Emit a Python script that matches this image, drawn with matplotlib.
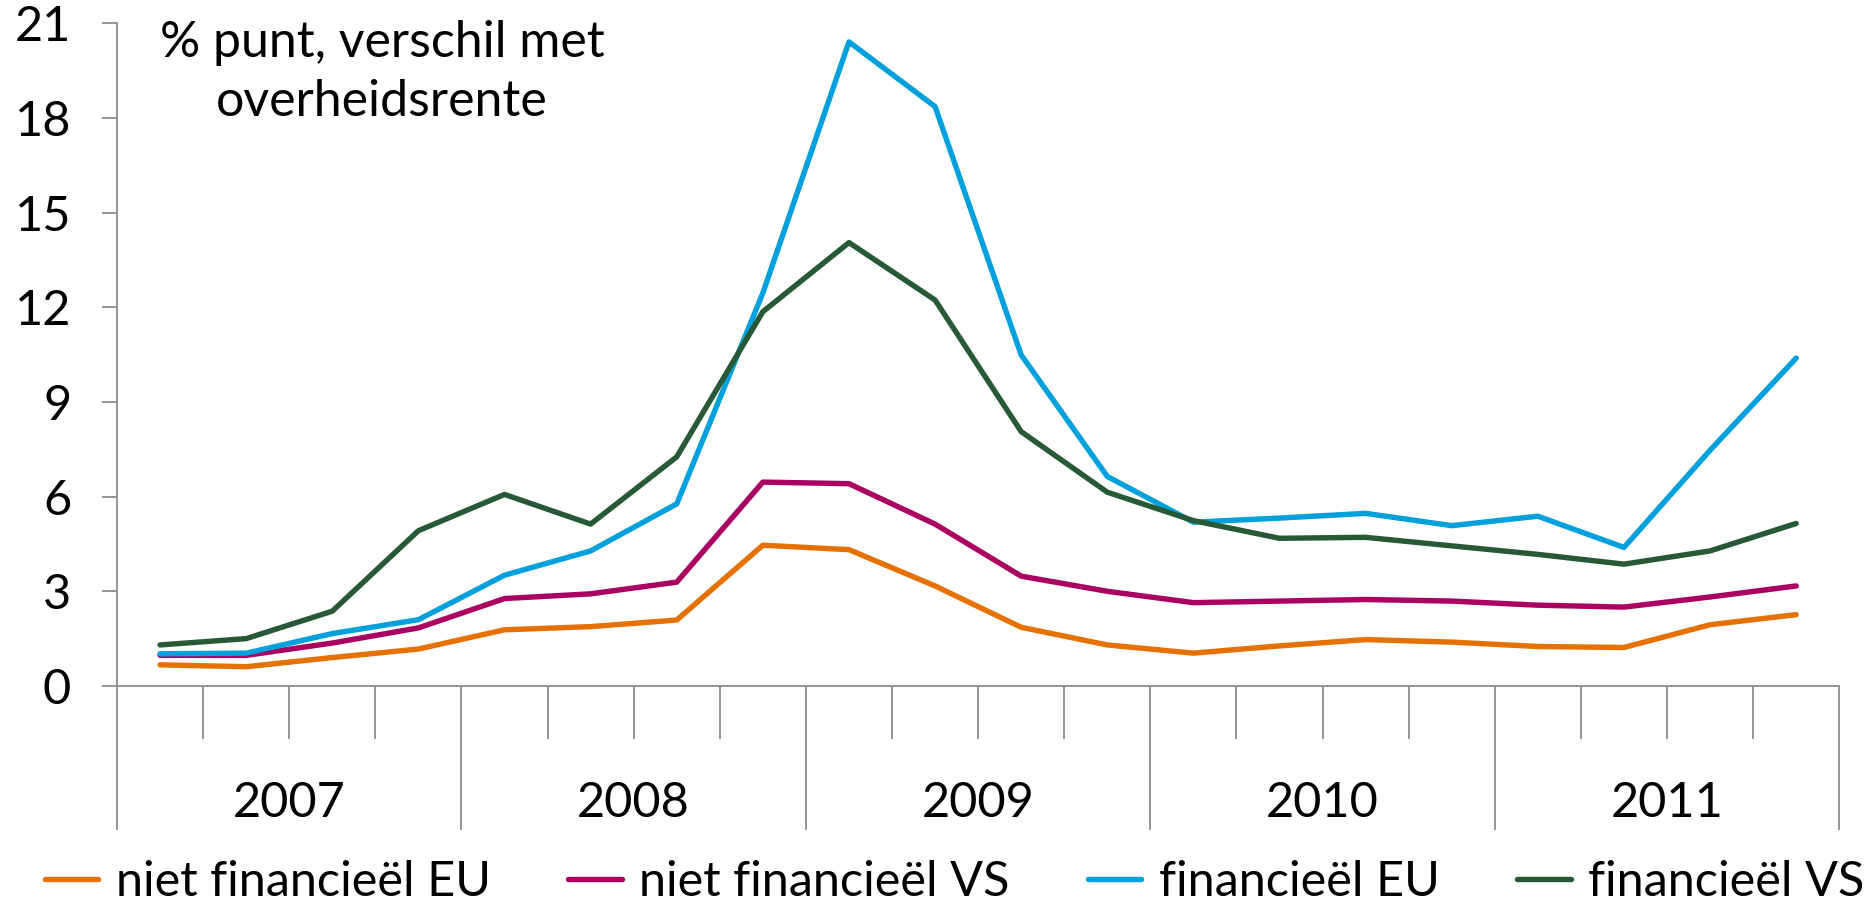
import numpy as np
import matplotlib
matplotlib.use('Agg')
import matplotlib.pyplot as plt

# spreads in %-punt boven overheidsrente, per kwartaal 2007 Q1 - 2011 Q4
years = ['2007', '2008', '2009', '2010', '2011']
niet_fin_eu = [0.67, 0.61, 0.90, 1.17, 1.78, 1.88, 2.09, 4.46, 4.32, 3.17,
               1.86, 1.30, 1.04, 1.27, 1.47, 1.39, 1.25, 1.22, 1.94, 2.26]
niet_fin_vs = [0.97, 0.97, 1.36, 1.84, 2.77, 2.92, 3.29, 6.46, 6.41, 5.13,
               3.48, 3.00, 2.64, 2.69, 2.74, 2.69, 2.56, 2.50, 2.82, 3.17]
fin_eu = [1.02, 1.04, 1.66, 2.10, 3.51, 4.28, 5.77, 12.45, 20.41, 18.36,
          10.49, 6.64, 5.19, 5.32, 5.47, 5.08, 5.38, 4.39, 7.47, 10.39]
fin_vs = [1.30, 1.50, 2.37, 4.92, 6.07, 5.13, 7.26, 11.86, 14.05, 12.23,
          8.06, 6.14, 5.24, 4.68, 4.71, 4.44, 4.17, 3.86, 4.28, 5.15]

plt.rcParams['font.family'] = ['Lato', 'DejaVu Sans']

grey = '#8c8c8c'
fs = 35
x = np.arange(len(fin_eu)) + 0.5

fig = plt.figure(figsize=(18.72, 9.02), dpi=100)
ax = fig.add_axes([0.0625, 0.2395, 0.92, 0.7347])

ax.plot(x, niet_fin_eu, color='#e57200', lw=3.9, label='niet financieël EU', solid_capstyle='round')
ax.plot(x, niet_fin_vs, color='#a90061', lw=3.9, label='niet financieël VS', solid_capstyle='round')
ax.plot(x, fin_eu, color='#00a0dc', lw=3.9, label='financieël EU', solid_capstyle='round')
ax.plot(x, fin_vs, color='#275937', lw=3.9, label='financieël VS', solid_capstyle='round')

ax.set_xlim(0, len(fin_eu))
ax.set_ylim(0, 21)
ax.set_yticks(range(0, 22, 3))
ax.set_xticks(range(0, 21, 4))
ax.set_xticks(range(0, 21), minor=True)
ax.set_xticklabels([])

for s in ['top', 'right']:
    ax.spines[s].set_visible(False)
for s in ['left', 'bottom']:
    ax.spines[s].set_color(grey)
    ax.spines[s].set_linewidth(1.3)

ax.tick_params(axis='y', length=11, width=1.3, color=grey, labelsize=fs, pad=22)
ax.tick_params(axis='x', which='major', length=104, width=1.3, color=grey)
ax.tick_params(axis='x', which='minor', length=38, width=1.3, color=grey)

for i, yr in enumerate(years):
    ax.text(4 * i + 2, -0.177, yr, transform=ax.get_xaxis_transform(),
            ha='center', va='center', fontsize=fs)

ax.text(0.154, 0.925, '% punt, verschil met\noverheidsrente', transform=ax.transAxes,
        ha='center', va='center', fontsize=fs + 1, linespacing=1.35)

fig.legend(loc='center', bbox_to_anchor=(0.51, 0.022), ncol=4, frameon=False,
           fontsize=fs, handlelength=1.1, handletextpad=0.36, columnspacing=1.6)

fig.savefig('out.png', dpi=100)
